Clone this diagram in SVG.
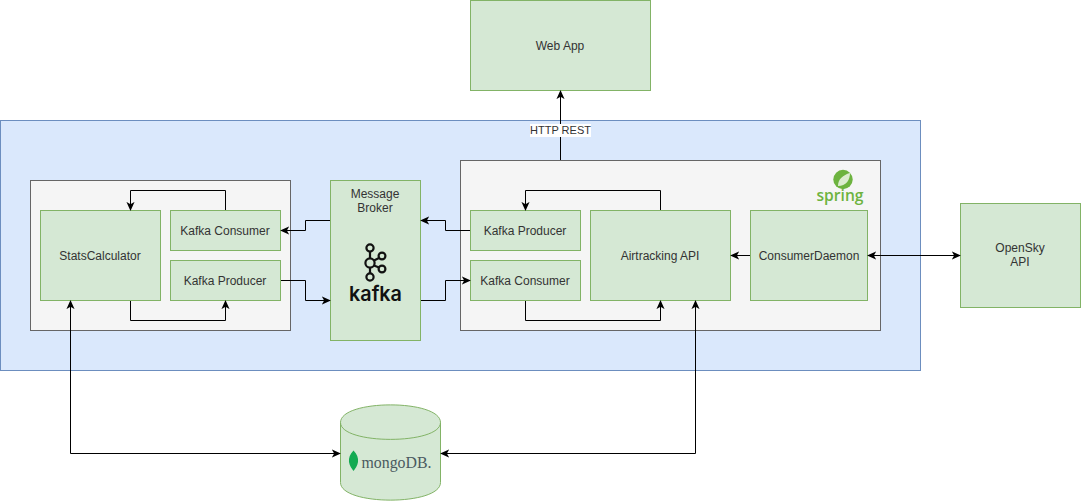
<svg xmlns="http://www.w3.org/2000/svg" width="1081" height="501" viewBox="0 0 1081 501">
<style>
.g{fill:#d5e8d4;stroke:#82b366;stroke-width:1}
.p{fill:#f5f5f5;stroke:#666666;stroke-width:1}
.b{fill:#dae8fc;stroke:#6c8ebf;stroke-width:1}
text{font-family:"Liberation Sans",Arial,Helvetica,sans-serif;font-size:12px;fill:#333333;text-anchor:middle}
.c{fill:none;stroke:#000;stroke-width:1}
.k{fill:none;stroke:#111;stroke-width:2.2}
</style>
<defs>
<marker id="a" viewBox="0 0 10 10" refX="9" refY="5" markerWidth="9" markerHeight="9" markerUnits="userSpaceOnUse" orient="auto-start-reverse"><path d="M0 0.5L10 5L0 9.5L2.5 5Z" fill="#000"/></marker>
</defs>
<rect id="white-bg" width="1081" height="501" fill="#ffffff"/>
<g id="platform"><rect class="b" x="0.5" y="120.5" width="920" height="250"/></g>
<g id="stats-panel"><rect class="p" x="30.5" y="180.5" width="260" height="150"/></g>
<g id="spring-panel"><rect class="p" x="460.5" y="160.5" width="420" height="170"/>
<circle cx="843" cy="179.500" r="9.700" fill="#6db33f"/><path d="M838 186C838 179 843 175 850 173C850 180 846 186 838 186Z" fill="#dcecd0"/>
<text x="840" y="201" textLength="47" lengthAdjust="spacingAndGlyphs" style="font-size:15.500px;font-weight:600;fill:#6db33f;font-family:'Open Sans','Liberation Sans',sans-serif">spring</text></g>
<g id="web-app"><rect class="g" x="470.5" y="0.5" width="180" height="90"/><text x="560" y="50">Web App</text></g>
<g id="stats-calculator"><rect class="g" x="40.5" y="210.5" width="120" height="90"/><text x="100" y="260">StatsCalculator</text></g>
<g id="stats-consumer"><rect class="g" x="170.5" y="210.5" width="110" height="40"/><text x="225" y="235">Kafka Consumer</text></g>
<g id="stats-producer"><rect class="g" x="170.5" y="260.5" width="110" height="40"/><text x="225" y="285">Kafka Producer</text></g>
<g id="broker"><rect class="g" x="330.5" y="180.5" width="90" height="160"/><text x="375" y="198">Message</text><text x="375" y="212">Broker</text>
<g class="k"><circle cx="370" cy="248" r="3.600"/><circle cx="370" cy="263" r="4.600"/><circle cx="370" cy="277" r="3.600"/><circle cx="382" cy="256" r="3.400"/><circle cx="382" cy="269" r="3.400"/><path d="M370 252V258M370 268V273M374 260.500L379 258M374 265.500L379 267.500"/></g>
<text x="375.500" y="301" textLength="53" lengthAdjust="spacingAndGlyphs" style="font-size:20.500px;font-weight:600;fill:#111;font-family:Inter,'Open Sans',sans-serif">kafka</text></g>
<g id="air-producer"><rect class="g" x="470.5" y="210.5" width="110" height="40"/><text x="525" y="235">Kafka Producer</text></g>
<g id="air-consumer"><rect class="g" x="470.5" y="260.5" width="110" height="40"/><text x="525" y="285">Kafka Consumer</text></g>
<g id="airtracking-api"><rect class="g" x="590.5" y="210.5" width="140" height="90"/><text x="660" y="260">Airtracking API</text></g>
<g id="consumer-daemon"><rect class="g" x="750.5" y="210.5" width="117" height="90"/><text x="809" y="260">ConsumerDaemon</text></g>
<g id="opensky-api"><rect class="g" x="960.5" y="203.5" width="120" height="104"/><text x="1020" y="252">OpenSky</text><text x="1020" y="266">API</text></g>
<g id="mongodb"><path class="g" d="M340.5 422.5C340.5 399 440.5 399 440.5 422.5V482.5C440.5 506 340.5 506 340.5 482.5Z"/><path class="g" style="fill:none" d="M340.5 422.5C340.5 445 440.5 445 440.5 422.5"/>
<path d="M353.500 450.500C350 454 348.500 458 349 462C349.500 466 352 469 353.500 471C355 469 357.500 466 358 462C358.500 458 357 454 353.500 450.500Z" fill="#13aa52"/>
<text x="396.500" y="467.500" textLength="70" lengthAdjust="spacingAndGlyphs" style="font-size:17px;fill:#4a5a60;font-family:'Liberation Serif','DejaVu Serif',serif">mongoDB.</text></g>
<g id="connectors">
<path class="c" marker-end="url(#a)" d="M560.500 160V91"/>
<path class="c" marker-end="url(#a)" d="M225.500 210V190.500H130.500V210"/>
<path class="c" marker-end="url(#a)" d="M130.500 301V320.500H225.500V301"/>
<path class="c" marker-end="url(#a)" d="M330 220.500H305.500V230.500H281"/>
<path class="c" marker-end="url(#a)" d="M281 280.500H305.500V300.500H330"/>
<path class="c" marker-end="url(#a)" d="M470 230.500H445.500V220.500H421"/>
<path class="c" marker-end="url(#a)" d="M421 300.500H445.500V280.500H470"/>
<path class="c" marker-end="url(#a)" d="M660.500 210V190.500H525.500V210"/>
<path class="c" marker-end="url(#a)" d="M525.500 301V320.500H660.500V301"/>
<path class="c" marker-end="url(#a)" d="M750 255.500H731"/>
<path class="c" marker-start="url(#a)" marker-end="url(#a)" d="M868 255.500H960"/>
<path class="c" marker-start="url(#a)" marker-end="url(#a)" d="M70.500 301V453.500H340"/>
<path class="c" marker-start="url(#a)" marker-end="url(#a)" d="M695.500 301V453.500H441"/>
</g>
<g id="http-label"><rect x="530" y="124" width="61" height="13" fill="#fff"/><text x="560.500" y="134" style="font-size:11px">HTTP REST</text></g>
</svg>
